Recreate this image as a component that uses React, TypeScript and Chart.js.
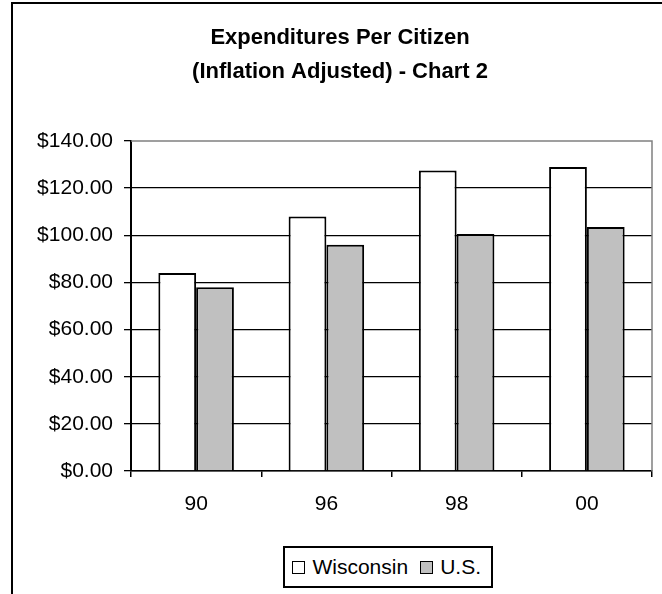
import React, { useEffect, useRef } from "react";
import { Chart, registerables } from "chart.js";

Chart.register(...registerables);

const categories = ["90", "96", "98", "00"];
const wisconsin = [84, 108, 127.5, 129];
const us = [78, 96, 100.5, 103.5];
const seriesNames = ["Wisconsin", "U.S."];
const titleLines = ["Expenditures Per Citizen", "(Inflation Adjusted) - Chart 2"];
const yMin = 0;
const yMax = 140;
const yStep = 20;

const FONT = "'Liberation Sans', Arial, sans-serif";

const framePlugin = {
  id: "frame",
  beforeDraw(chart: any) {
    const ctx = chart.ctx;
    ctx.save();
    ctx.fillStyle = "#ffffff";
    ctx.fillRect(0, 0, chart.width, chart.height);
    ctx.restore();
  },
  afterDraw(chart: any) {
    const ctx = chart.ctx;
    const { top, right, bottom } = chart.chartArea;
    ctx.save();
    ctx.strokeStyle = "#808080";
    ctx.lineWidth = 1.5;
    ctx.beginPath();
    ctx.moveTo(chart.scales.x.left, top);
    ctx.lineTo(right, top);
    ctx.lineTo(right, bottom);
    ctx.stroke();
    ctx.strokeStyle = "#000000";
    ctx.lineWidth = 2;
    ctx.beginPath();
    ctx.moveTo(12, chart.height);
    ctx.lineTo(12, 3);
    ctx.lineTo(chart.width, 3);
    ctx.stroke();
    ctx.restore();
  },
};

export default function App() {
  const ref = useRef<HTMLCanvasElement | null>(null);

  useEffect(() => {
    if (!ref.current) return;
    const chart = new Chart(ref.current, {
      type: "bar",
      data: {
        labels: categories,
        datasets: [
          {
            label: seriesNames[0],
            data: wisconsin,
            backgroundColor: "#ffffff",
            borderColor: "#000000",
            borderWidth: 2,
            categoryPercentage: 0.58,
            barPercentage: 1,
          },
          {
            label: seriesNames[1],
            data: us,
            backgroundColor: "#c0c0c0",
            borderColor: "#000000",
            borderWidth: 2,
            categoryPercentage: 0.58,
            barPercentage: 1,
          },
        ],
      },
      options: {
        animation: false,
        responsive: false,
        maintainAspectRatio: false,
        layout: { padding: { left: 28, right: 10, top: 0, bottom: 0 } },
        plugins: {
          legend: { display: false },
          tooltip: { enabled: false },
          title: {
            display: true,
            text: titleLines,
            color: "#000000",
            font: { family: FONT, size: 22, weight: "bold", lineHeight: 1.55 },
            padding: { top: 21, bottom: 51.8 },
          },
        },
        scales: {
          x: {
            afterFit(scale: any) {
              scale.height = 123;
            },
            grid: {
              offset: true,
              drawOnChartArea: false,
              drawTicks: true,
              tickLength: 6,
              color: "#000000",
              tickColor: "#000000",
              lineWidth: 1.5,
            },
            border: { display: true, color: "#000000", width: 1.5 },
            ticks: {
              color: "#000000",
              font: { family: FONT, size: 21 },
              padding: 15,
            },
          },
          y: {
            min: yMin,
            max: yMax,
            afterFit(scale: any) {
              scale.width = 103;
            },
            ticks: {
              stepSize: yStep,
              color: "#000000",
              font: { family: FONT, size: 21 },
              padding: 11,
              callback: (v: any) => "$" + Number(v).toFixed(2),
            },
            grid: {
              color: (c: any) => (c.tick && c.tick.value === yMax ? "rgba(0,0,0,0)" : "#000000"),
              tickColor: "#000000",
              tickLength: 7,
              lineWidth: 1.3,
            },
            border: { display: true, color: "#000000", width: 2 },
          },
        },
      },
      plugins: [framePlugin],
    });
    return () => chart.destroy();
  }, []);

  const sq = (bg: string) => ({
    display: "inline-block",
    width: 13,
    height: 13,
    background: bg,
    border: "1.5px solid #000",
    marginRight: 7,
    boxSizing: "border-box" as const,
  });

  return (
    <div style={{ position: "fixed", left: 0, top: 0, width: 662, height: 594, background: "#fff" }}>
      <canvas ref={ref} width={662} height={594} style={{ display: "block" }} />
      <div
        style={{
          position: "absolute",
          right: 169,
          top: 546,
          height: 42,
          boxSizing: "border-box",
          border: "2px solid #000",
          background: "#fff",
          display: "flex",
          alignItems: "center",
          padding: "0 10px 0 7px",
          fontFamily: FONT,
          fontSize: 21,
          color: "#000",
          whiteSpace: "nowrap",
        }}
      >
        <span style={{ display: "inline-flex", alignItems: "center", marginRight: 12 }}>
          <span style={sq("#ffffff")} />
          {seriesNames[0]}
        </span>
        <span style={{ display: "inline-flex", alignItems: "center" }}>
          <span style={sq("#c0c0c0")} />
          {seriesNames[1]}
        </span>
      </div>
    </div>
  );
}
